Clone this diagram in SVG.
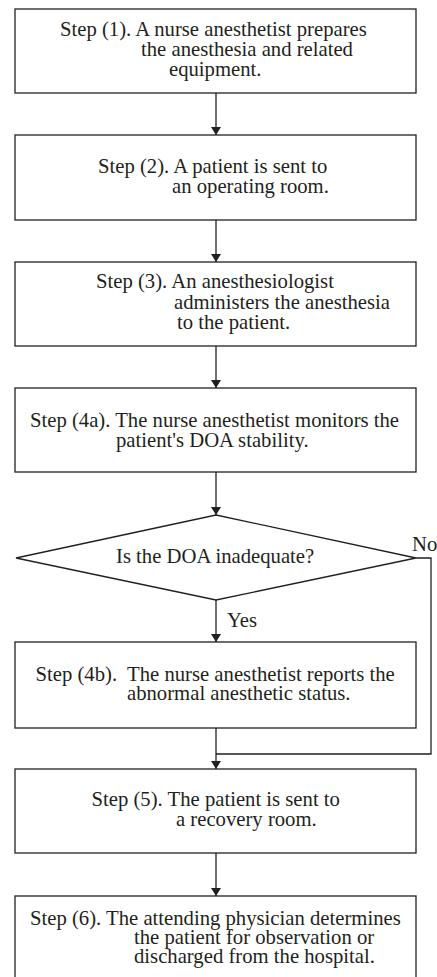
<svg xmlns="http://www.w3.org/2000/svg" width="437" height="977" viewBox="0 0 437 977">
<style>
.box{fill:#fff;stroke:#231f20;stroke-width:1.3}
.c{fill:none;stroke:#231f20;stroke-width:1.3}
</style>
<defs>
<marker id="ah" markerWidth="8" markerHeight="10" refX="8" refY="5" orient="auto" markerUnits="userSpaceOnUse" viewBox="0 0 8 10">
<path d="M0,0 L8,5 L0,10 Z" fill="#231f20"/>
</marker>
</defs>
<rect width="437" height="977" fill="#fff"/>
<g font-family="'Liberation Serif', 'Times New Roman', serif" font-size="20.7" fill="#231f20">
<g id="connectors">
<line class="c" x1="216" y1="93" x2="216" y2="135" marker-end="url(#ah)"/>
<line class="c" x1="216" y1="220" x2="216" y2="262" marker-end="url(#ah)"/>
<line class="c" x1="216" y1="346" x2="216" y2="388" marker-end="url(#ah)"/>
<line class="c" x1="216" y1="472" x2="216" y2="515" marker-end="url(#ah)"/>
<line class="c" x1="216" y1="600" x2="216" y2="642" marker-end="url(#ah)"/>
<polyline class="c" points="416,558 431,558 431,754 216,754"/>
<line class="c" x1="216" y1="728" x2="216" y2="769" marker-end="url(#ah)"/>
<line class="c" x1="216" y1="853" x2="216" y2="896" marker-end="url(#ah)"/>
<text x="227" y="627">Yes</text>
<text x="412" y="551">No</text>
</g>
<g id="step1">
<rect class="box" x="15" y="9" width="401" height="84"/>
<text x="60" y="36">Step (1). A nurse anesthetist prepares</text>
<text x="141" y="56">the anesthesia and related</text>
<text x="169" y="76">equipment.</text>
</g>
<g id="step2">
<rect class="box" x="15" y="135" width="401" height="85"/>
<text x="98" y="173">Step (2). A patient is sent to</text>
<text x="172" y="193">an operating room.</text>
</g>
<g id="step3">
<rect class="box" x="15" y="262" width="401" height="84"/>
<text x="96" y="288">Step (3). An anesthesiologist</text>
<text x="174" y="309">administers the anesthesia</text>
<text x="177" y="329">to the patient.</text>
</g>
<g id="step4a">
<rect class="box" x="15" y="388" width="401" height="84"/>
<text x="30" y="427">Step (4a). The nurse anesthetist monitors the</text>
<text x="116" y="447">patient's DOA stability.</text>
</g>
<g id="decision">
<polygon class="box" points="216,515 416,558 216,600 16,558"/>
<text x="116" y="563">Is the DOA inadequate?</text>
</g>
<g id="step4b">
<rect class="box" x="15" y="642" width="401" height="86"/>
<text x="35.5" y="681" xml:space="preserve">Step (4b).  The nurse anesthetist reports the</text>
<text x="127" y="700">abnormal anesthetic status.</text>
</g>
<g id="step5">
<rect class="box" x="15" y="769" width="401" height="84"/>
<text x="91.5" y="806">Step (5). The patient is sent to</text>
<text x="176" y="826">a recovery room.</text>
</g>
<g id="step6">
<rect class="box" x="15" y="896" width="401" height="100"/>
<text x="30" y="925">Step (6). The attending physician determines</text>
<text x="134" y="944">the patient for observation or</text>
<text x="134" y="963">discharged from the hospital.</text>
</g>
</g>
</svg>
